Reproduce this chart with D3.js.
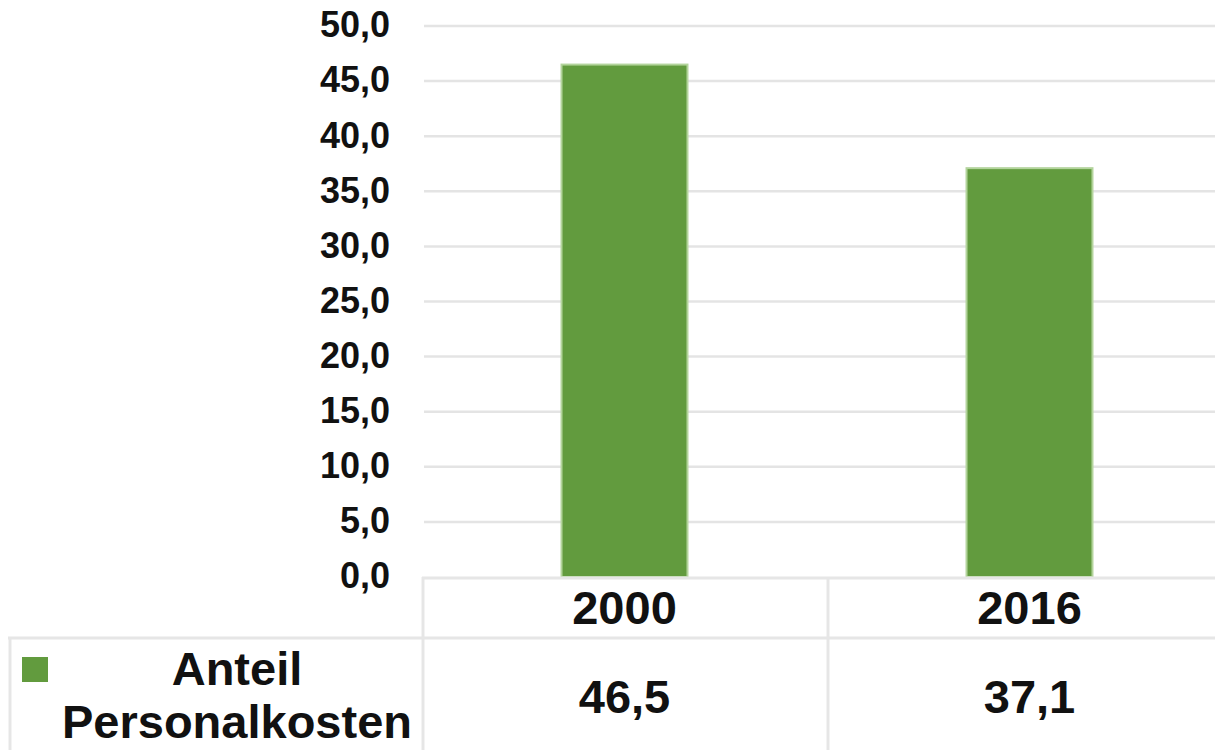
<!DOCTYPE html>
<html>
<head>
<meta charset="utf-8">
<script src="https://cdn.jsdelivr.net/npm/d3@7"></script>
<style>
  html, body { margin: 0; padding: 0; background: #fff; }
  svg { display: block; font-family: "Liberation Sans", Arial, sans-serif; }
</style>
</head>
<body>
<svg id="chart" width="1215" height="750"></svg>
<script>
const categories = ["2000", "2016"];
const values = [46.5, 37.1];
const valueLabels = ["46,5", "37,1"];
const tickValues = [0, 5, 10, 15, 20, 25, 30, 35, 40, 45, 50];
const seriesName = ["Anteil", "Personalkosten"];

const svg = d3.select("#chart");
const W = 1215, H = 750;
const plotLeft = 422, plotRight = 1232, yTop = 26, yBottom = 577;
const tableRowY = 638;
const green = "#629b3e";
const lineCol = "#e6e6e6";

const x = d3.scaleBand().domain(categories).range([plotLeft, plotRight])
  .paddingInner(0.689).paddingOuter(0.3445);
const cell = d3.scaleBand().domain(categories).range([plotLeft, plotRight]).padding(0);
const y = d3.scaleLinear().domain([0, 50]).range([yBottom, yTop]);

// gridlines
svg.append("g").selectAll("line").data(tickValues.filter(d => d > 0)).join("line")
  .attr("x1", plotLeft + 2).attr("x2", W)
  .attr("y1", d => y(d)).attr("y2", d => y(d))
  .attr("stroke", "#e4e4e4").attr("stroke-width", 2.5);

// y axis labels
const yAxis = d3.axisLeft(y).tickValues(tickValues).tickSize(0).tickPadding(0)
  .tickFormat(d => d3.format(".1f")(d).replace(".", ","));
const ya = svg.append("g").attr("transform", "translate(390,0)").call(yAxis);
ya.select(".domain").remove();
ya.selectAll("text").attr("font-size", 36).attr("font-weight", "bold")
  .attr("fill", "#111").attr("dy", "0.3em").attr("font-family", "Liberation Sans, Arial, sans-serif");

// bars
svg.append("g").selectAll("rect").data(values).join("rect")
  .attr("x", (d, i) => x(categories[i]))
  .attr("width", x.bandwidth())
  .attr("y", d => y(d))
  .attr("height", d => y(0) - y(d))
  .attr("fill", green)
  .attr("stroke", "#b3d49c").attr("stroke-width", 2);

// table lines
const t = svg.append("g").attr("stroke", lineCol).attr("stroke-width", 3);
t.append("line").attr("x1", plotLeft).attr("x2", W).attr("y1", yBottom + 1).attr("y2", yBottom + 1);
t.append("line").attr("x1", 8).attr("x2", W).attr("y1", tableRowY).attr("y2", tableRowY);
t.append("line").attr("x1", 10).attr("x2", 10).attr("y1", tableRowY).attr("y2", H);
categories.forEach(c => {
  t.append("line").attr("x1", cell(c) + 1).attr("x2", cell(c) + 1).attr("y1", yBottom).attr("y2", H);
});

// category labels
svg.append("g").selectAll("text").data(categories).join("text")
  .attr("x", d => cell(d) + cell.bandwidth() / 2)
  .attr("y", 624)
  .attr("text-anchor", "middle").attr("font-size", 47).attr("font-weight", "bold").attr("fill", "#111")
  .text(d => d);

// values row
svg.append("g").selectAll("text").data(valueLabels).join("text")
  .attr("x", (d, i) => cell(categories[i]) + cell.bandwidth() / 2)
  .attr("y", 713)
  .attr("text-anchor", "middle").attr("font-size", 47).attr("font-weight", "bold").attr("fill", "#111")
  .text(d => d);

// legend
svg.append("rect").attr("x", 22).attr("y", 657).attr("width", 26).attr("height", 25).attr("fill", green);
svg.append("g").selectAll("text").data(seriesName).join("text")
  .attr("x", 237).attr("y", (d, i) => 685 + i * 53)
  .attr("text-anchor", "middle").attr("font-size", 47).attr("font-weight", "bold").attr("fill", "#111")
  .text(d => d);
</script>
</body>
</html>
